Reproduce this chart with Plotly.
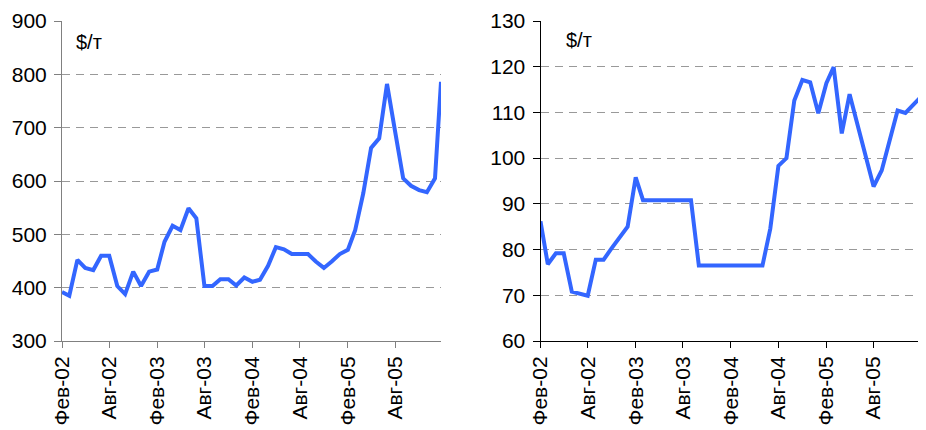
import pandas as pd
import plotly.graph_objects as go

# x: monthly observations Feb-2002 .. Jan-2006 plus a final late-January point
dates = list(pd.date_range("2002-02-01", periods=48, freq="MS").strftime("%Y-%m-%d")) + ["2006-01-24"]

left_values = [392, 385, 452, 437, 433, 460, 460, 403, 388, 430, 403, 430,
               434, 486, 516, 508, 549, 530, 403, 403, 416, 416, 404, 419,
               411, 415, 441, 476, 472, 463, 463, 463, 449, 437, 449, 463,
               471, 508, 577, 662, 680, 782, 693, 605, 591, 583, 579, 605, 786]

right_values = [86.2, 76.8, 79.2, 79.2, 70.8, 70.4, 69.9, 77.8, 77.8, 80.3, 82.6, 85.0,
                95.8, 90.8, 90.8, 90.8, 90.8, 90.8, 90.8, 90.8, 76.5, 76.5, 76.5, 76.5,
                76.5, 76.5, 76.5, 76.5, 76.5, 84.6, 98.3, 100.0, 112.6, 117.1, 116.6, 109.8,
                116.4, 119.9, 105.4, 114.0, 107.3, 100.5, 93.8, 97.3, 103.9, 110.4, 109.9, 111.7, 113.1]

tick_dates = ["2002-02-01", "2002-08-01", "2003-02-01", "2003-08-01",
              "2004-02-01", "2004-08-01", "2005-02-01", "2005-08-01"]
tick_labels = ["Фев-02", "Авг-02", "Фев-03", "Авг-03", "Фев-04", "Авг-04", "Фев-05", "Авг-05"]

left_yticks = [300, 400, 500, 600, 700, 800, 900]
right_yticks = [60, 70, 80, 90, 100, 110, 120, 130]
unit_label = "$/т"

FONT = "Liberation Sans, Arial, sans-serif"
LINE = "#3366FF"
W, H = 926, 430
OFF = 8  # page body margin offset

def px_x(v):
    return (v - OFF) / W

def px_y(v):
    return 1 - (v - OFF) / H

fig = go.Figure()
fig.add_trace(go.Scatter(x=dates, y=left_values, mode="lines",
                         line=dict(color=LINE, width=4), xaxis="x", yaxis="y",
                         showlegend=False))
fig.add_trace(go.Scatter(x=dates, y=right_values, mode="lines",
                         line=dict(color=LINE, width=4), xaxis="x2", yaxis="y2",
                         showlegend=False))

ydom = [px_y(341), px_y(21)]

def xaxis_common(dom, anchor, axcol):
    return dict(domain=dom, anchor=anchor, type="date",
                range=[dates[0], dates[-1]],
                tickmode="array", tickvals=tick_dates, ticktext=tick_labels,
                tickangle=-90, ticks="outside", ticklen=6, tickcolor=axcol,
                showline=True, linecolor=axcol, linewidth=1,
                showgrid=False, zeroline=False, automargin=False,
                tickfont=dict(family=FONT, size=21, color="#000000"))

def yaxis_common(anchor, rng, tv, axcol):
    return dict(domain=ydom, anchor=anchor, range=rng,
                tickmode="array", tickvals=tv,
                ticks="outside", ticklen=7, tickcolor=axcol,
                ticklabelstandoff=3,
                showline=True, linecolor=axcol, linewidth=1,
                showgrid=True, gridcolor="#999999", gridwidth=1, griddash="8px,6px",
                zeroline=False, automargin=False,
                tickfont=dict(family=FONT, size=21, color="#000000"))

fig.update_layout(
    width=W, height=H,
    margin=dict(l=0, r=0, t=0, b=0),
    paper_bgcolor="white", plot_bgcolor="white",
    xaxis=xaxis_common([px_x(62), px_x(441)], "y", "#808080"),
    yaxis=yaxis_common("x", [300, 900], left_yticks, "#808080"),
    xaxis2=xaxis_common([px_x(540.5), px_x(919.5)], "y2", "#000000"),
    yaxis2=yaxis_common("x2", [60, 130], right_yticks, "#000000"),
    annotations=[
        dict(text=unit_label, xref="paper", yref="paper", x=px_x(74), y=px_y(42),
             xanchor="left", yanchor="middle", showarrow=False,
             font=dict(family=FONT, size=20, color="#000000")),
        dict(text=unit_label, xref="paper", yref="paper", x=px_x(564), y=px_y(40),
             xanchor="left", yanchor="middle", showarrow=False,
             font=dict(family=FONT, size=20, color="#000000")),
    ],
)

fig.write_html("out.html")
